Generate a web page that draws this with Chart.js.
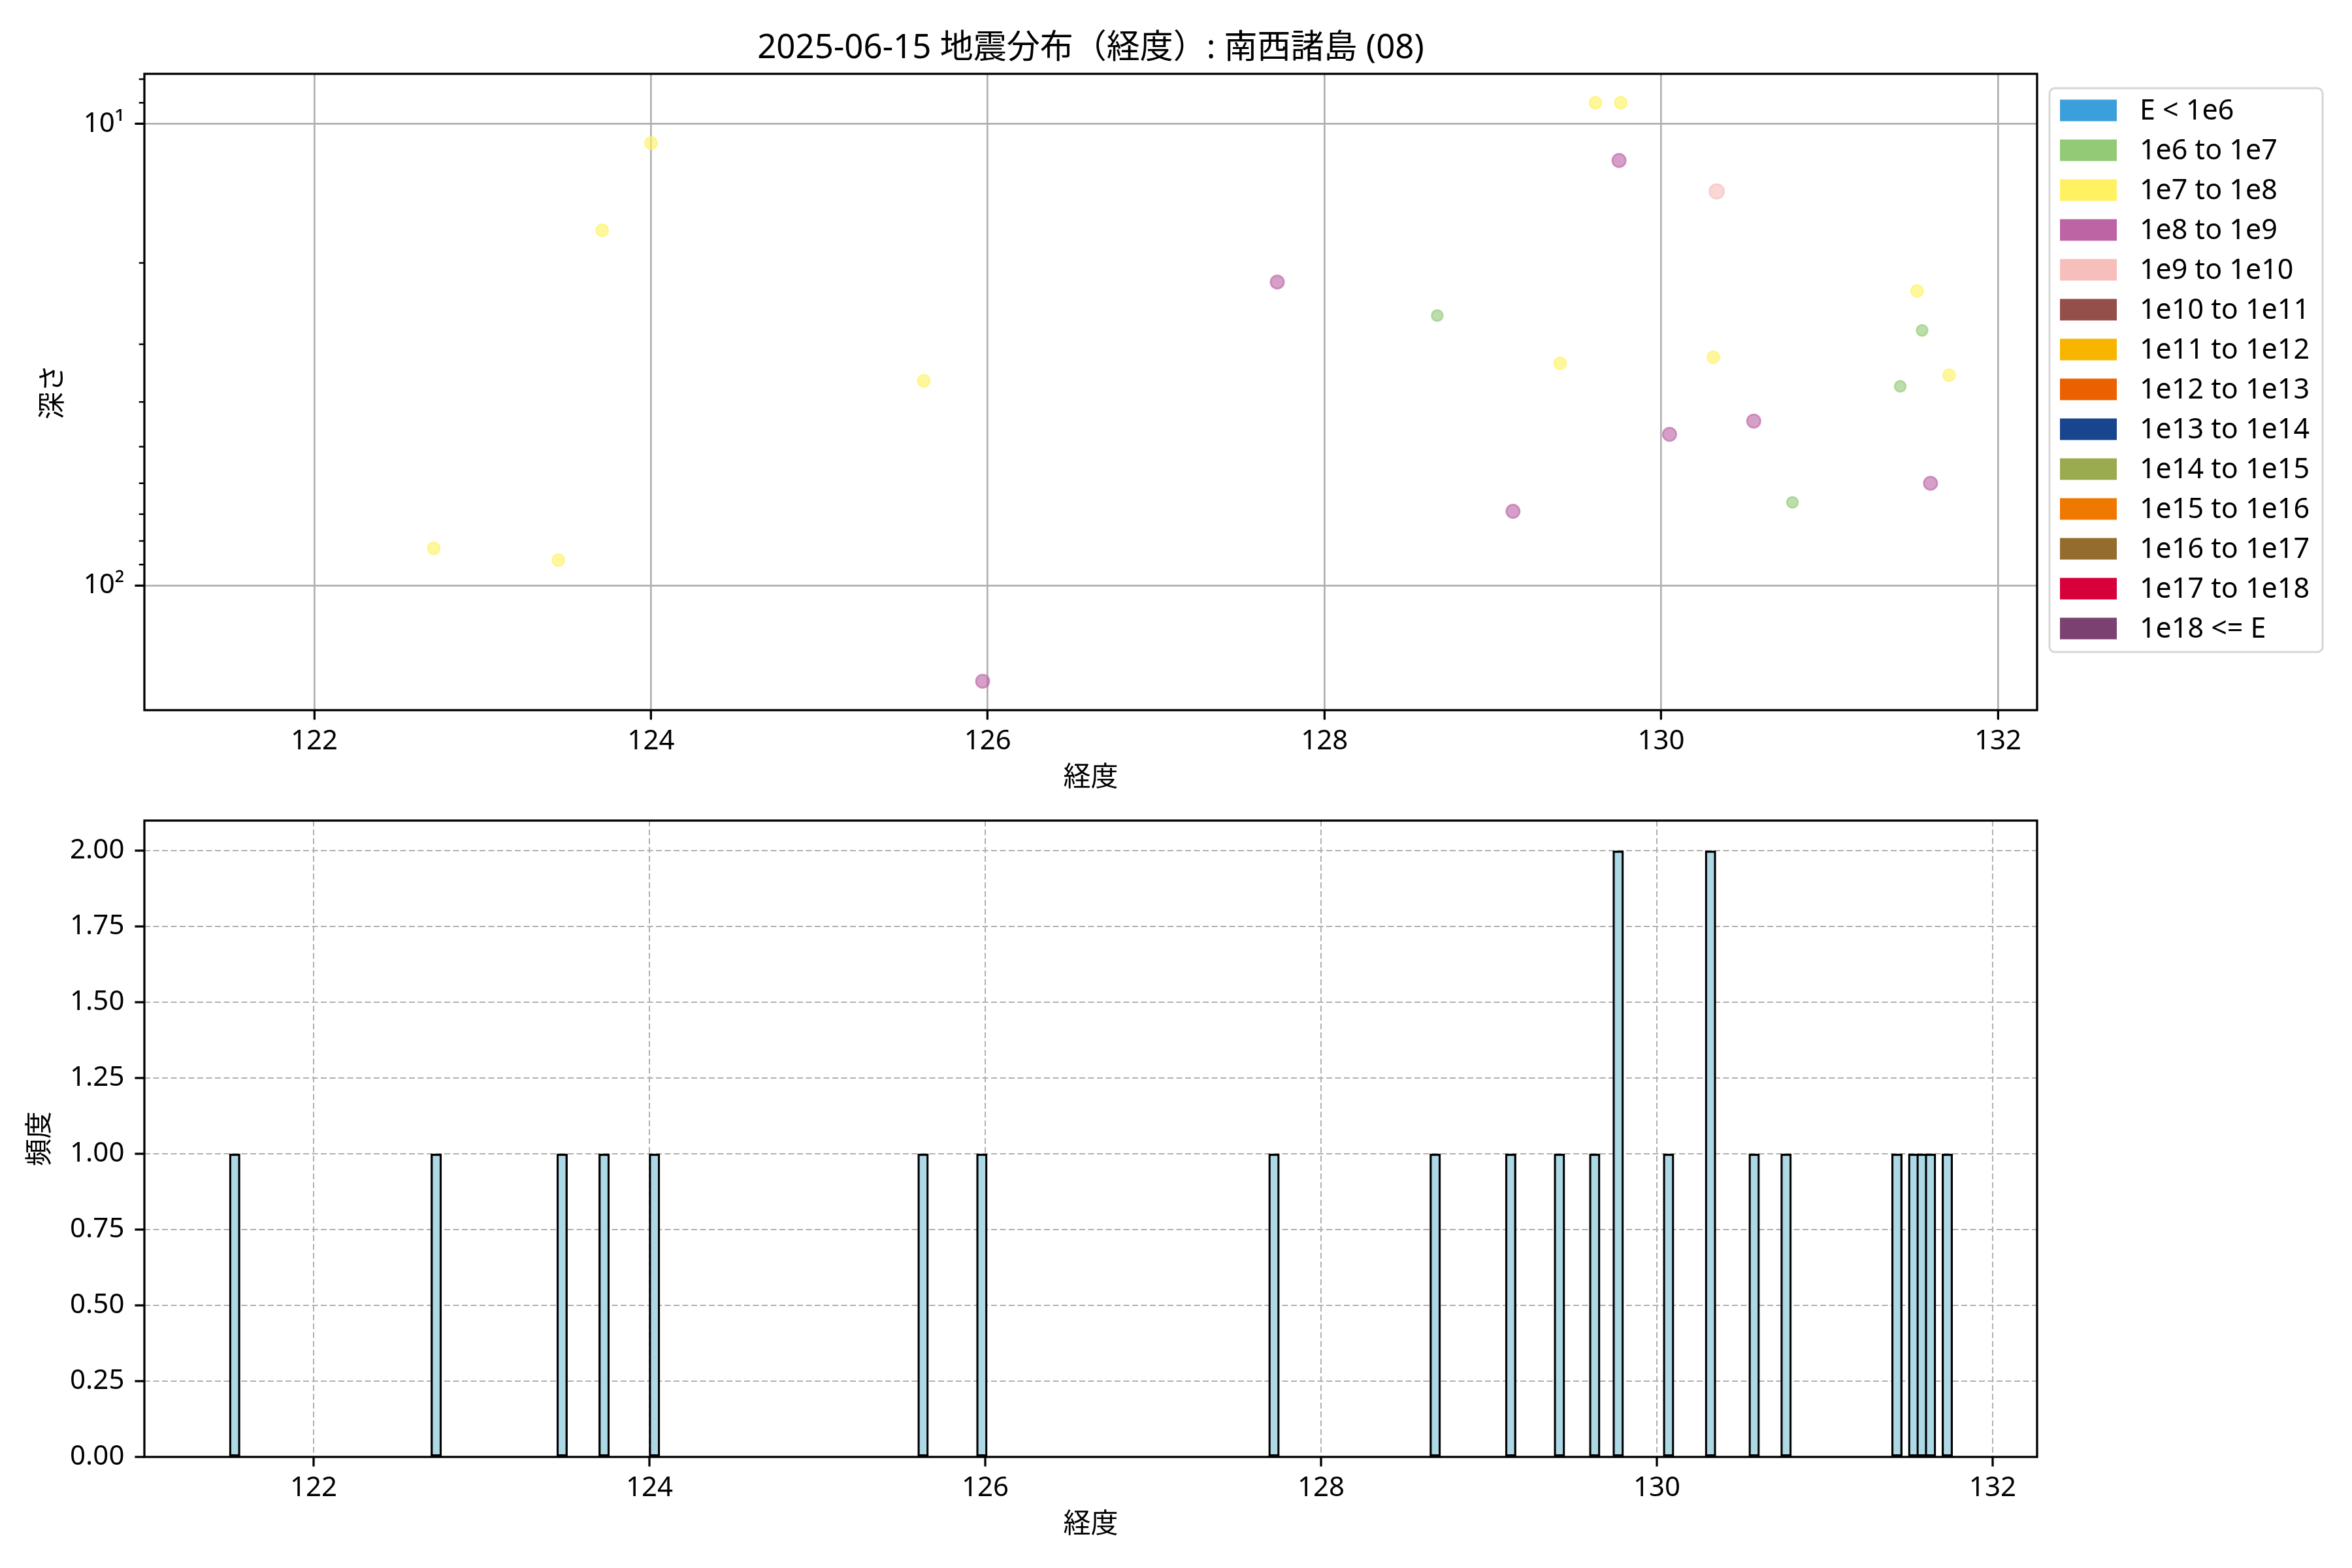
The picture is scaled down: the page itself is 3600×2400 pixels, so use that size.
<!DOCTYPE html>
<html lang="ja">
<head>
<meta charset="utf-8">
<title>2025-06-15 地震分布（経度）: 南西諸島 (08)</title>
<script src="https://cdn.jsdelivr.net/npm/chart.js@4.4.1/dist/chart.umd.min.js"></script>
<style>
  html, body { margin: 0; padding: 0; background: #fff; }
  #wrap { position: relative; width: 3600px; height: 2400px; background: #fff; }
  canvas { position: absolute; left: 0; }
  #chartTop { top: 0; width: 3600px; height: 1240px; }
  #chartBottom { top: 1200px; width: 3600px; height: 1200px; }
</style>
</head>
<body>
<div id="wrap">
  <canvas id="chartTop" width="3600" height="1240"></canvas>
  <canvas id="chartBottom" width="3600" height="1200"></canvas>
</div>
<script>
// textos
const titleText = '2025-06-15 地震分布（経度）: 南西諸島 (08)';
const xLabel = '経度';
const yLabelTop = '深さ';
const yLabelBottom = '頻度';

// classes de energia (legenda)
const energyLabels = ['E < 1e6', '1e6 to 1e7', '1e7 to 1e8', '1e8 to 1e9', '1e9 to 1e10',
  '1e10 to 1e11', '1e11 to 1e12', '1e12 to 1e13', '1e13 to 1e14', '1e14 to 1e15',
  '1e15 to 1e16', '1e16 to 1e17', '1e17 to 1e18', '1e18 <= E'];
const energyColors = ['#3a9fdb', '#93ca76', '#fff262', '#bc64a4', '#f6bfbc',
  '#944f4b', '#f8b500', '#eb6101', '#19448e', '#9aab4f',
  '#ee7800', '#946c2d', '#d7003a', '#7a4171'];

// sismos: longitude, profundidade, classe de energia (índice em energyLabels)
const quakeLon = [124.00, 123.71, 125.62, 122.71, 123.45, 125.97, 129.61, 129.76, 129.75, 130.33, 127.72, 128.67,
  131.52, 131.55, 129.40, 130.31, 131.71, 131.42, 130.55, 130.05, 131.60, 130.78, 129.12];
const quakeDepth = [11, 17, 36, 83, 88, 161, 9, 9, 12, 14, 22, 26,
  23, 28, 33, 32, 35, 37, 44, 47, 60, 66, 69];
const quakeClass = [2, 2, 2, 2, 2, 3, 2, 2, 3, 4, 3, 1,
  2, 1, 2, 2, 2, 1, 3, 3, 3, 1, 3];

// histograma: centro de cada barra e frequência
const histLon = [121.53, 122.73, 123.48, 123.73, 124.03, 125.63, 125.98, 127.72, 128.68, 129.13, 129.42,
  129.63, 129.77, 130.07, 130.32, 130.58, 130.77, 131.43, 131.53, 131.58, 131.63, 131.73];
const histCount = [1, 1, 1, 1, 1, 1, 1, 1, 1, 1, 1,
  1, 2, 1, 2, 1, 1, 1, 1, 1, 1, 1];

// ticks
const lonTicks = [122, 124, 126, 128, 130, 132];
const depthTicks = [10, 100];
const depthTickLabels = ['10¹', '10²'];
const depthMinorTicks = [8, 9, 20, 30, 40, 50, 60, 70, 80, 90];
const countTicks = [0, 0.25, 0.5, 0.75, 1, 1.25, 1.5, 1.75, 2];

// tamanho do ponto por classe
const classRadius = { 1: 8.5, 2: 9.3, 3: 10.3, 4: 11.3 };

const FONT = "'Noto Sans', 'Noto Sans CJK JP', sans-serif";
Chart.defaults.font.family = FONT;
Chart.defaults.font.size = 42;
Chart.defaults.color = '#000';

const rgba = (hex, a) => {
  const n = parseInt(hex.slice(1), 16);
  return `rgba(${(n >> 16) & 255}, ${(n >> 8) & 255}, ${n & 255}, ${a})`;
};

// moldura dos eixos (4 lados)
const spines = {
  id: 'spines',
  afterDatasetsDraw(chart) {
    const { ctx, chartArea: a } = chart;
    ctx.save();
    ctx.strokeStyle = '#000';
    ctx.lineWidth = 3.3;
    ctx.strokeRect(a.left, a.top, a.right - a.left, a.bottom - a.top);
    ctx.restore();
  }
};

// ticks menores do eixo log
const minorTicks = {
  id: 'minorTicks',
  afterDraw(chart) {
    const { ctx, chartArea: a } = chart;
    const y = chart.scales.y;
    ctx.save();
    ctx.strokeStyle = '#000';
    ctx.lineWidth = 2.5;
    depthMinorTicks.forEach(v => {
      const py = y.getPixelForValue(v);
      ctx.beginPath();
      ctx.moveTo(a.left - 8.3, py);
      ctx.lineTo(a.left, py);
      ctx.stroke();
    });
    ctx.restore();
  }
};

// título centralizado sobre a área do gráfico
const axTitle = {
  id: 'axTitle',
  afterDraw(chart) {
    const { ctx, chartArea: a } = chart;
    ctx.save();
    ctx.font = `51px ${FONT}`;
    ctx.fillStyle = '#000';
    ctx.textAlign = 'center';
    ctx.textBaseline = 'middle';
    ctx.fillText(titleText, (a.left + a.right) / 2, 74);
    ctx.restore();
  }
};

// legenda à direita, com moldura arredondada
const energyLegend = {
  id: 'energyLegend',
  afterDraw(chart) {
    const { ctx, chartArea: a } = chart;
    const left = a.right + 19, top = a.top + 22;
    const w = 418, h = 863, r = 8, rowH = 61;
    ctx.save();
    ctx.beginPath();
    ctx.moveTo(left + r, top);
    ctx.lineTo(left + w - r, top);
    ctx.arcTo(left + w, top, left + w, top + r, r);
    ctx.lineTo(left + w, top + h - r);
    ctx.arcTo(left + w, top + h, left + w - r, top + h, r);
    ctx.lineTo(left + r, top + h);
    ctx.arcTo(left, top + h, left, top + h - r, r);
    ctx.lineTo(left, top + r);
    ctx.arcTo(left, top, left + r, top, r);
    ctx.closePath();
    ctx.fillStyle = 'rgba(255,255,255,0.8)';
    ctx.fill();
    ctx.strokeStyle = '#d6d6d6';
    ctx.lineWidth = 3;
    ctx.stroke();
    ctx.font = `43px ${FONT}`;
    ctx.textBaseline = 'middle';
    energyLabels.forEach((label, i) => {
      const cy = top + 34 + i * rowH;
      ctx.fillStyle = energyColors[i];
      ctx.fillRect(left + 16, cy - 16.5, 87, 33);
      ctx.fillStyle = '#000';
      ctx.fillText(label, left + 138, cy + 2);
    });
    ctx.restore();
  }
};

const xAxis = (min, max, gridOpts, dash) => ({
  type: 'linear',
  min, max,
  offset: false,
  afterBuildTicks: s => { s.ticks = lonTicks.map(v => ({ value: v })); },
  afterFit: s => { s.height = 129; },
  ticks: { padding: 8, autoSkip: false, maxRotation: 0, callback: v => String(v) },
  grid: Object.assign({ offset: false, tickColor: '#000', tickWidth: 3.3, tickLength: 14.6 }, gridOpts),
  border: { display: false, dash },
  title: { display: true, text: xLabel, padding: 0, font: { size: 42 } }
});

// gráfico de dispersão (profundidade x longitude)
const renderScatter = () => {
  const classes = [...new Set(quakeClass)].sort((a, b) => a - b);
  const datasets = classes.map(c => {
    const pts = [];
    quakeLon.forEach((lon, i) => {
      if (quakeClass[i] === c) pts.push({ x: lon, y: quakeDepth[i] });
    });
    return {
      label: energyLabels[c],
      data: pts,
      backgroundColor: rgba(energyColors[c], 0.62),
      borderColor: rgba(energyColors[c], 0.62),
      borderWidth: 2.5,
      pointRadius: classRadius[c],
      pointHoverRadius: classRadius[c]
    };
  });

  new Chart(document.getElementById('chartTop'), {
    type: 'scatter',
    data: { datasets },
    options: {
      responsive: false,
      animation: false,
      devicePixelRatio: 1,
      events: [],
      layout: { autoPadding: false, padding: { top: 113, right: 482, bottom: 24, left: 57 } },
      plugins: { legend: { display: false }, tooltip: { enabled: false } },
      scales: {
        x: xAxis(120.991, 132.233, { color: '#b0b0b0', lineWidth: 2.7 }, []),
        y: {
          type: 'logarithmic',
          reverse: true,
          min: 7.79,
          max: 186,
          afterBuildTicks: s => { s.ticks = depthTicks.map(v => ({ value: v, major: true })); },
          afterFit: s => { s.width = 164; },
          ticks: { padding: 16, callback: (v, i) => depthTickLabels[i] },
          grid: { color: '#b0b0b0', lineWidth: 2.7, tickColor: '#000', tickWidth: 3.3, tickLength: 14.6 },
          border: { display: false },
          title: { display: true, text: yLabelTop, padding: 0, font: { size: 42 } }
        }
      }
    },
    plugins: [spines, minorTicks, axTitle, energyLegend]
  });
};

// histograma (frequência x longitude)
const renderHistogram = () => {
  new Chart(document.getElementById('chartBottom'), {
    type: 'bar',
    data: {
      datasets: [{
        data: histLon.map((lon, i) => ({ x: lon, y: histCount[i] })),
        backgroundColor: '#add8e6',
        borderColor: '#000',
        borderWidth: 3.3,
        borderSkipped: false,
        barThickness: 16.5
      }]
    },
    options: {
      responsive: false,
      animation: false,
      devicePixelRatio: 1,
      events: [],
      layout: { autoPadding: false, padding: { top: 56, right: 482, bottom: 41, left: 37 } },
      plugins: { legend: { display: false }, tooltip: { enabled: false } },
      scales: {
        x: xAxis(120.992, 132.265, { color: '#b0b0b0', lineWidth: 2 }, [9, 4.5]),
        y: {
          type: 'linear',
          min: 0,
          max: 2.1,
          afterBuildTicks: s => { s.ticks = countTicks.map(v => ({ value: v })); },
          afterFit: s => { s.width = 184; },
          ticks: { padding: 16, callback: v => Number(v).toFixed(2) },
          grid: { color: '#b0b0b0', lineWidth: 2, tickColor: '#000', tickWidth: 3.3, tickLength: 14.6 },
          border: { display: false, dash: [9, 4.5] },
          title: { display: true, text: yLabelBottom, padding: 0, font: { size: 42 } }
        }
      }
    },
    plugins: [spines]
  });
};

renderScatter();
renderHistogram();
</script>
</body>
</html>
